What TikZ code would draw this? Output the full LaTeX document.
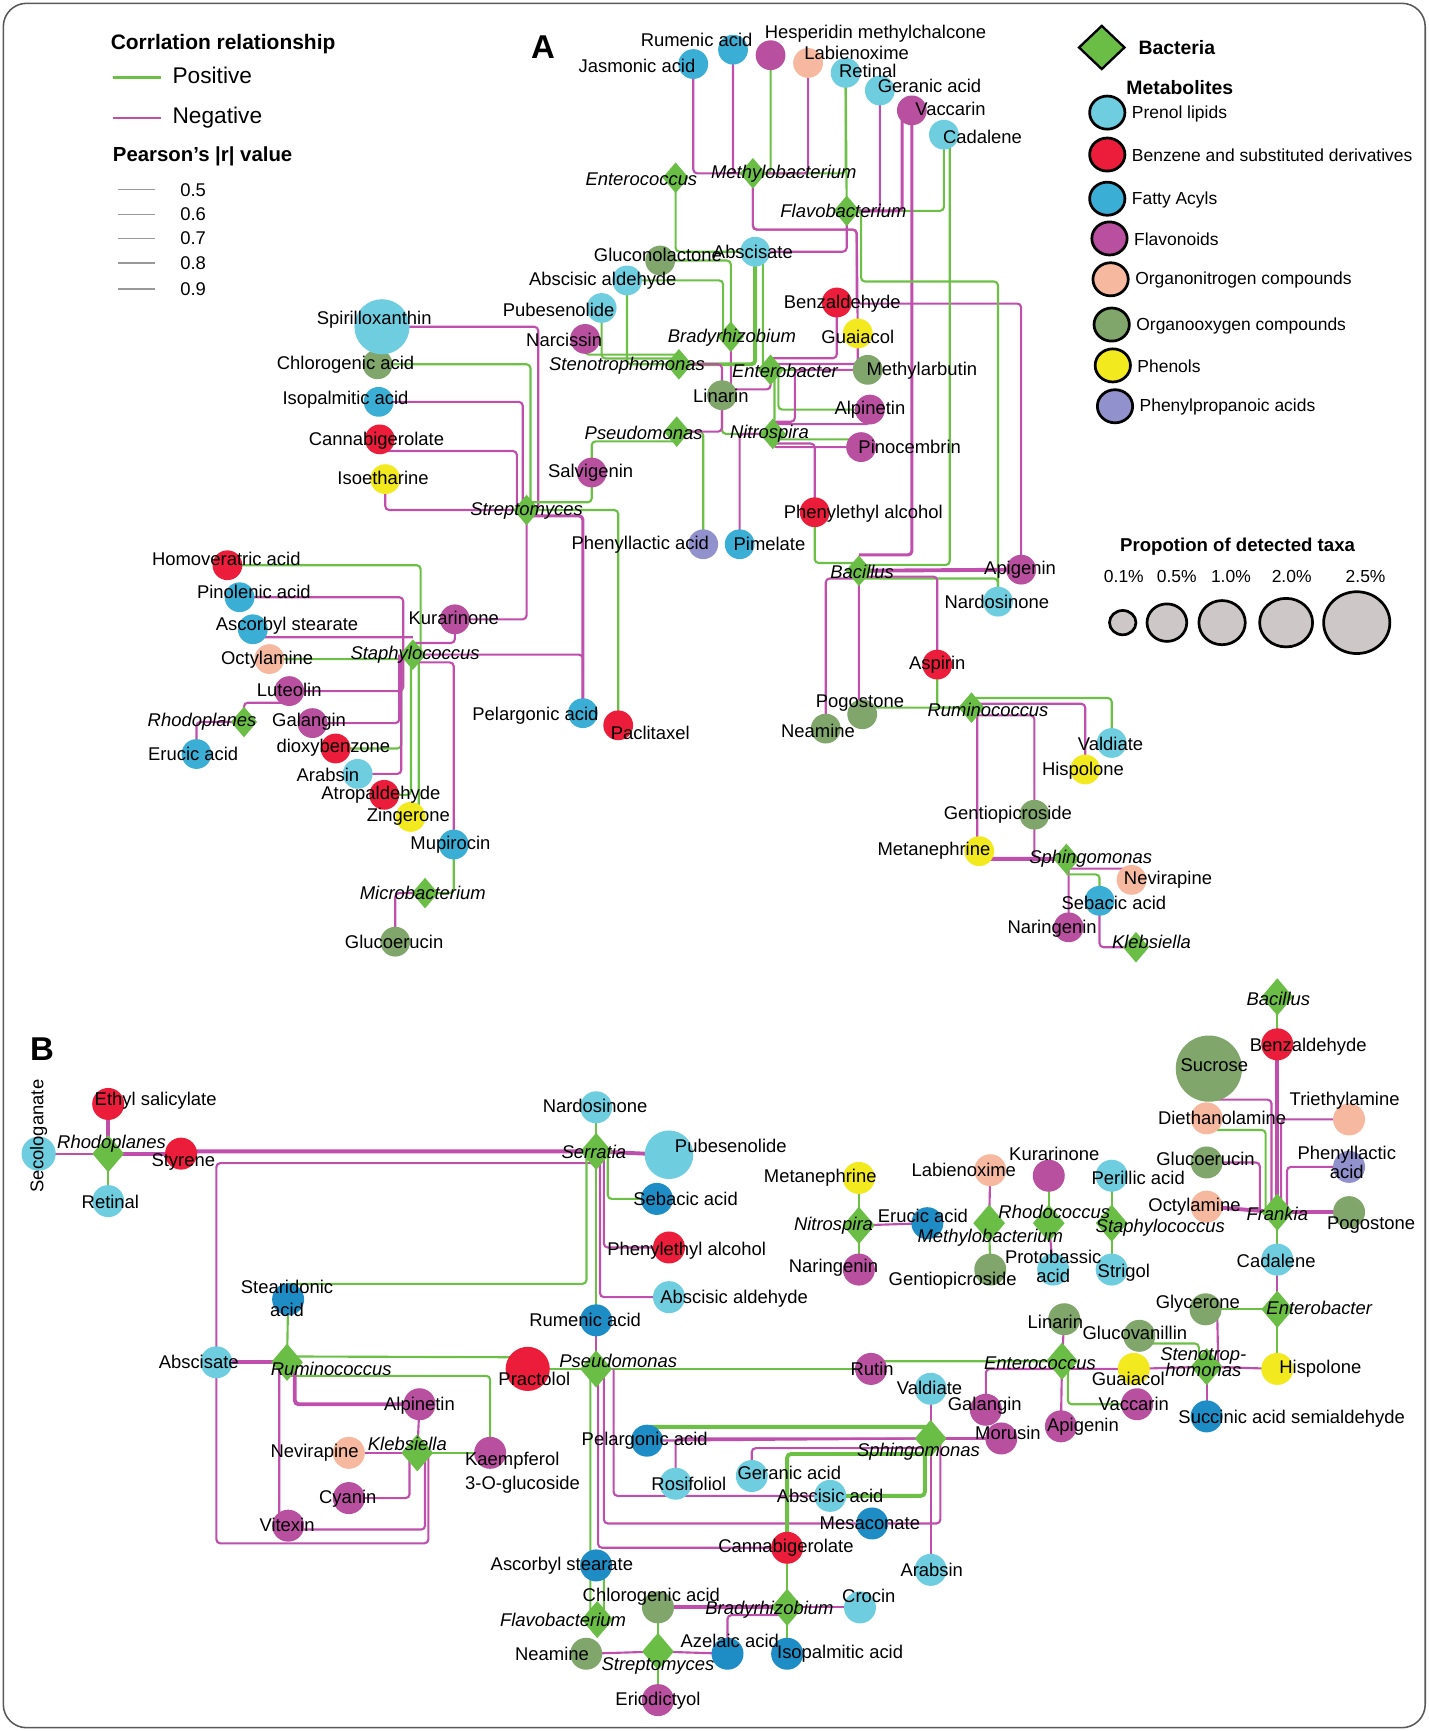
\documentclass[tikz,border=0pt]{standalone}
\usepackage{fontspec}
\setmainfont{Liberation Sans}
\usetikzlibrary{shapes.geometric, calc}

\definecolor{pre}{HTML}{6ECEDF}
\definecolor{ben}{HTML}{EC1D3B}
\definecolor{fat}{HTML}{3BAED5}
\definecolor{fab}{HTML}{1E8DC6}
\definecolor{fla}{HTML}{B84F9F}
\definecolor{nit}{HTML}{F6B99F}
\definecolor{oxy}{HTML}{80A66B}
\definecolor{phe}{HTML}{F2EA1F}
\definecolor{ppa}{HTML}{9191CD}
\definecolor{bac}{HTML}{6ABE45}
\definecolor{poscol}{HTML}{6DC046}
\definecolor{negcol}{HTML}{BF4EAC}
\definecolor{taxa}{HTML}{CEC7C7}

\pgfdeclarelayer{back}
\pgfdeclarelayer{front}
\pgfsetlayers{back,main,front}

\tikzset{
  met/.style={circle, fill=#1, inner sep=0pt, minimum size=0.54cm},
  metb/.style={circle, fill=#1, inner sep=0pt, minimum size=0.58cm},
  dia/.style={diamond, fill=bac, inner sep=0pt, minimum width=0.48cm, minimum height=0.56cm},
  diab/.style={diamond, fill=bac, inner sep=0pt, minimum width=0.58cm, minimum height=0.68cm},
  lbl/.style={inner sep=0pt, align=center, font=\fontsize{9.5}{12}\selectfont},
  bug/.style={lbl, font=\fontsize{9.5}{12}\selectfont\itshape},
  poslink/.style={draw=poscol, line width=1.1pt, rounded corners=2pt},
  neglink/.style={draw=negcol, line width=1.1pt, rounded corners=2pt},
  wide/.style={line width=2pt},
  legdot/.style={ellipse, draw=black, line width=1.4pt, inner sep=0pt, minimum width=0.64cm, minimum height=0.6cm},
  head/.style={anchor=west, inner sep=0pt, font=\fontsize{10.5}{12}\selectfont\bfseries},
}

\begin{document}
\begin{tikzpicture}[x=0.02cm, y=-0.02cm]
\useasboundingbox (0,0) rectangle (1294,1568);
\draw[rounded corners=12pt, draw=black!65, line width=0.8pt] (3,3) rectangle (1291,1565);

\node[font=\fontsize{17}{17}\selectfont\bfseries] (panA) at (492,43) {A};
\node[font=\fontsize{17}{17}\selectfont\bfseries] (panB) at (38,950) {B};

% legend: correlation
\node[head, font=\fontsize{10.8}{12}\selectfont\bfseries] (corr) at (100,40) {Corrlation relationship};
\draw[draw=poscol, line width=1.3pt] (102,70) -- (146,70);
\node[anchor=west, inner sep=0pt, font=\fontsize{11.7}{13}\selectfont] (posi) at (156,68) {Positive};
\draw[draw=negcol, line width=1.3pt] (102,107) -- (146,107);
\node[anchor=west, inner sep=0pt, font=\fontsize{11.7}{13}\selectfont] (nega) at (156,107) {Negative};
\node[head] (pear) at (102,142) {Pearson's |r| value};
\foreach \v/\y/\w in {0.5/172/0.5, 0.6/194/0.6, 0.7/216/0.75, 0.8/238/0.9, 0.9/262/1.3}{
  \draw[black!40, line width=\w pt] (107,\y) -- (140,\y);
  \node[lbl, anchor=west] (r\y) at (163,\y) {\v};
}

% legend: node types
\node[diamond, fill=bac, draw=black, line width=1.2pt, inner sep=0pt, minimum width=0.84cm, minimum height=0.8cm] (bacl) at (998,43) {};
\node[head, font=\fontsize{10}{12}\selectfont\bfseries] (bact) at (1031,43) {Bacteria};
\node[head, font=\fontsize{10}{12}\selectfont\bfseries] (metl) at (1020,79) {Metabolites};
\foreach \col/\x/\y/\txt [count=\i] in {pre/1003/102/Prenol lipids, ben/1003/140/Benzene and substituted derivatives, fat/1003/180/Fatty Acyls, fla/1005/216/Flavonoids, nit/1006/253/Organonitrogen compounds, oxy/1007/294/Organooxygen compounds, phe/1008/331/Phenols, ppa/1010/368/Phenylpropanoic acids}{
  \node[legdot, fill=\col] (k\i) at (\x,\y) {};
  \node[lbl, anchor=west, font=\fontsize{9}{11}\selectfont] (kt\i) at (\x+22,\y+1) {\txt};
}

% legend: taxa proportion
\node[inner sep=0pt, font=\fontsize{9.6}{12}\selectfont\bfseries] (prop) at (1121,495) {Propotion of detected taxa};
\foreach \txt/\x/\lx/\w/\h [count=\i] in {0.1\%/1017/1018/0.48cm/0.44cm, 0.5\%/1057/1066/0.72cm/0.68cm, 1.0\%/1107/1115/0.84cm/0.8cm, 2.0\%/1165/1170/0.96cm/0.88cm, 2.5\%/1229/1237/1.2cm/1.12cm}{
  \node[ellipse, draw=black, fill=taxa, line width=1.4pt, inner sep=0pt, minimum width=\w, minimum height=\h] (pc\i) at (\x,564) {};
  \node[inner sep=0pt, font=\fontsize{9}{11}\selectfont] (pt\i) at (\lx,522) {\txt};
}

% panel A metabolites
\foreach \n/\col/\x/\y/\lx/\ly/\txt in {
  jasm/fat/628/58/577/60/Jasmonic acid, rume/fat/664/45/631/36/Rumenic acid,
  hesp/fla/698/50/793/31/Hesperidin methylchalcone, labi/nit/732/57/776/48/Labienoxime,
  reti/pre/766/66/786/64/Retinal, gera/pre/797/82/842/78/Geranic acid,
  vacc/fla/826/100/861/99/Vaccarin, cada/pre/855/122/890/124/Cadalene,
  absc/pre/684/228/682/228/Abscisate, gluc/oxy/598/236/596/231/Gluconolactone,
  abal/pre/568/254/546/254/Abscisic aldehyde, pube/pre/545/279/506/281/Pubesenolide,
  narc/fla/530/307/511/308/Narcissin, chlo/oxy/342/330/313/330/Chlorogenic acid,
  benz/ben/758/274/763/275/Benzaldehyde, guai/phe/777/302/777/305/Guaiacol,
  marb/oxy/786/335/835/336/Methylarbutin, lina/oxy/654/358/653/359/Linarin,
  isop/fat/343/364/313/362/Isopalmitic acid, alpi/fla/788/371/788/371/Alpinetin,
  pino/fla/780/405/824/405/Pinocembrin, cann/ben/344/398/341/399/Cannabigerolate,
  isoe/phe/349/434/347/433/Isoetharine, salv/fla/536/428/535/428/Salvigenin,
  phet/ben/738/464/782/465/Phenylethyl alcohol, phla/ppa/637/493/580/493/Phenyllactic acid,
  pime/fat/670/493/697/493/Pimelate, apig/fla/925/516/924/516/Apigenin,
  nard/pre/904/545/903/545/Nardosinone, homo/ben/206/512/205/506/Homoveratric acid,
  pinl/fat/217/541/230/536/Pinolenic acid, kura/fla/412/561/411/560/Kurarinone,
  ascs/fat/229/570/260/567/Ascorbyl stearate, octy/nit/244/597/242/598/Octylamine,
  lute/fla/262/626/262/625/Luteolin, gala/fla/283/655/280/654/Galangin,
  eruc/fat/178/683/175/683/Erucic acid, diox/ben/304/678/302/677/dioxybenzone,
  arab/pre/324/701/297/702/Arabsin, atro/ben/348/720/345/720/Atropaldehyde,
  zing/phe/372/740/370/740/Zingerone, mupi/fat/411/765/408/765/Mupirocin,
  gler/oxy/358/853/357/853/Glucoerucin, pela/fat/528/646/485/648/Pelargonic acid,
  pacl/ben/560/657/589/664/Paclitaxel, aspi/ben/849/602/849/602/Aspirin,
  pogo/oxy/781/647/779/637/Pogostone, neam/oxy/748/660/741/662/Neamine,
  vald/pre/1007/673/1006/674/Valdiate, hisp/phe/983/697/981/698/Hispolone,
  gent/oxy/937/738/913/738/Gentiopicroside, meta/phe/887/771/846/771/Metanephrine,
  nevi/nit/1025/797/1058/797/Nevirapine, seba/fat/996/816/1009/818/Sebacic acid,
  nari/fla/968/840/953/841/Naringenin}{
  \node[met=\col] (\n) at (\x,\y) {};
  \begin{pgfonlayer}{front}
    \node[lbl] (\n-l) at (\lx,\ly) {\txt};
  \end{pgfonlayer}
}
\node[met=pre, minimum size=1cm] (spir) at (346,296) {};
\begin{pgfonlayer}{front}
  \node[lbl] (spir-l) at (339,290) {Spirilloxanthin};
\end{pgfonlayer}

% panel A bacteria
\foreach \n/\x/\y/\lx/\ly/\txt in {
  entc/612/161/581/162/Enterococcus, mety/682/157/710/157/Methylobacterium,
  flav/767/191/764/191/Flavobacterium, brad/662/305/663/306/Bradyrhizobium,
  sten/615/330/568/331/Stenotrophomonas, entb/698/335/711/336/Enterobacter,
  pseu/613/391/583/392/Pseudomonas, nitr/700/393/697/393/Nitrospira,
  stre/477/462/477/463/Streptomyces, baci/778/517/781/518/Bacillus,
  stap/374/593/376/593/Staphylococcus, rhod/221/654/183/654/Rhodoplanes,
  micr/385/809/383/809/Microbacterium, rumi/880/641/895/643/Ruminococcus,
  sphi/966/778/988/778/Sphingomonas, kleb/1029/858/1043/853/Klebsiella}{
  \node[dia] (\n) at (\x,\y) {};
  \begin{pgfonlayer}{front}
    \node[bug] (\n-l) at (\lx,\ly) {\txt};
  \end{pgfonlayer}
}

% panel B metabolites
\foreach \n/\col/\x/\y/\lx/\ly/\txt in {
  bethy/ben/98/1000/141/997/Ethyl salicylate, bstyr/ben/164/1045/166/1053/Styrene,
  breti/pre/98/1088/100/1089/Retinal, babsc/pre/196/1234/180/1234/Abscisate,
  bnard/pre/540/1003/539/1002/Nardosinone, bseba/fab/595/1086/621/1086/Sebacic acid,
  bphet/ben/606/1130/622/1133/Phenylethyl alcohol, babal/pre/606/1175/665/1176/Abscisic aldehyde,
  bstea/fab/261/1177/260/1176/Stearidonic\\acid, brume/fab/540/1196/530/1196/Rumenic acid,
  balpi/fla/380/1272/380/1273/Alpinetin, bnevi/nit/316/1316/285/1316/Nevirapine,
  bkaem/fla/444/1316/0/0/{}, bcyan/fla/316/1357/315/1358/Cyanin,
  bvite/fla/261/1382/260/1381/Vitexin, bruti/fla/789/1240/790/1240/Rutin,
  bpela/fab/586/1305/584/1305/Pelargonic acid, brosi/pre/612/1344/624/1344/Rosifoliol,
  bgera/pre/681/1337/715/1334/Geranic acid, babac/pre/752/1355/752/1355/Abscisic acid,
  bmesa/fab/790/1380/788/1380/Mesaconate, bcann/ben/713/1402/712/1402/Cannabigerolate,
  barab/pre/843/1422/844/1422/Arabsin, bvald/pre/843/1258/842/1257/Valdiate,
  bmoru/fla/907/1303/913/1298/Morusin, bascs/fab/540/1418/509/1418/Ascorbyl stearate,
  bchlo/oxy/596/1456/590/1446/Chlorogenic acid, bneam/oxy/531/1498/500/1498/Neamine,
  berio/fla/596/1540/596/1541/Eriodictyol, bazel/fab/659/1498/661/1486/Azelaic acid,
  bcroc/pre/779/1456/787/1446/Crocin, bisop/fab/713/1498/761/1498/Isopalmitic acid,
  bbenz/ben/1157/946/1185/948/Benzaldehyde, bdiet/nit/1093/1013/1107/1013/Diethanolamine,
  btrie/nit/1222/1014/1218/997/Triethylamine, bgler/oxy/1093/1053/1092/1050/Glucoerucin,
  bphla/ppa/1222/1057/1220/1053/Phenyllactic\\[-2.5pt]acid, bocty/nit/1093/1093/1082/1093/Octylamine,
  bpogo/oxy/1222/1098/1242/1110/Pogostone, bcada/pre/1157/1141/1156/1142/Cadalene,
  bglyc/oxy/1092/1186/1085/1181/Glycerone, bhisp/phe/1157/1240/1196/1240/Hispolone,
  bsucc/fab/1093/1283/1170/1285/Succinic acid semialdehyde, bglva/oxy/1032/1210/1028/1207/Glucovanillin,
  bguai/phe/1027/1240/1022/1249/Guaiacol, bvacc/fla/1030/1272/1027/1272/Vaccarin,
  blina/oxy/964/1195/956/1197/Linarin, bgala/fla/893/1277/892/1273/Galangin,
  bapig/fla/961/1292/981/1292/Apigenin, bmeta/phe/778/1067/743/1067/Metanephrine,
  bnari/fla/778/1150/755/1148/Naringenin, beruc/fab/840/1108/836/1101/Erucic acid,
  blabi/nit/897/1060/873/1060/Labienoxime, bgent/oxy/897/1150/863/1160/Gentiopicroside,
  bkura/fla/950/1065/955/1045/Kurarinone, bprot/pre/954/1150/954/1147/Protobassic\\[-2.5pt]acid,
  bperi/pre/1007/1065/1031/1067/Perillic acid, bstri/pre/1007/1150/1018/1153/Strigol}{
  \node[metb=\col] (\n) at (\x,\y) {};
  \begin{pgfonlayer}{front}
    \node[lbl] (\n-l) at (\lx,\ly) {\txt};
  \end{pgfonlayer}
}
\node[metb=oxy, minimum size=1.2cm] (bsucr) at (1095,968) {};
\node[metb=pre, minimum size=0.88cm] (bpube) at (606,1046) {};
\node[metb=ben, minimum size=0.8cm] (bprac) at (478,1240) {};
\node[metb=pre, minimum size=0.62cm] (bseco) at (35,1045) {};
\begin{pgfonlayer}{front}
  \node[lbl] (bsucr-l) at (1100,965) {Sucrose};
  \node[lbl] (bpube-l) at (662,1038) {Pubesenolide};
  \node[lbl] (bprac-l) at (484,1249) {Practolol};
  \node[lbl, rotate=90] (bseco-l) at (35,1029) {Secologanate};
  \node[lbl, anchor=west, align=left] (bkaem-t) at (421,1334) {Kaempferol\\3-O-glucoside};
\end{pgfonlayer}

% panel B bacteria
\foreach \n/\x/\y/\lx/\ly/\txt in {
  brhod/98/1045/101/1036/Rhodoplanes, bserr/540/1043/538/1043/Serratia,
  brumi/260/1234/300/1240/Ruminococcus, bpseu/540/1240/560/1233/Pseudomonas,
  bkleb/378/1316/369/1308/Klebsiella, bsphi/843/1303/832/1315/Sphingomonas,
  bflav/541/1467/510/1467/Flavobacterium, bstre/596/1496/596/1509/Streptomyces,
  bbrad/713/1456/697/1458/Bradyrhizobium, bbaci/1157/903/1158/905/Bacillus,
  bfran/1157/1098/1157/1100/Frankia, bentb/1157/1186/1195/1185/Enterobacter,
  bsten/1093/1238/1090/1234/Stenotrop-\\[-4pt]homonas, bentc/962/1233/942/1235/Enterococcus,
  bnitr/778/1110/755/1110/Nitrospira, bmety/896/1108/897/1121/Methylobacterium,
  brhoc/950/1108/955/1098/Rhodococcus, bstap/1007/1108/1051/1112/Staphylococcus}{
  \node[diab] (\n) at (\x,\y) {};
  \begin{pgfonlayer}{front}
    \node[bug] (\n-l) at (\lx,\ly) {\txt};
  \end{pgfonlayer}
}

\begin{pgfonlayer}{back}
% panel A links
\foreach \p/\q in {hesp/mety, reti/mety, cada/flav, entc/absc, abal/sten, lina/nitr, mupi/micr, aspi/rumi, pogo/rumi}
  \draw[poslink] (\p.center) |- (\q.center);
\foreach \p/\q in {jasm/mety, rume/mety, labi/mety, gera/flav, flav/absc, isoe/stre, brad/lina, stre/kura, seba/kleb, nitr/pino, gent/sphi}
  \draw[neglink] (\p.center) |- (\q.center);
\foreach \p/\q in {gluc/brad, stre/pacl, pseu/phla, octy/stap}
  \draw[poslink] (\p.center) -| (\q.center);
\foreach \p/\q in {stap/pela, micr/gler, rhod/eruc, nitr/pime, sphi/nari}
  \draw[neglink] (\p.center) -| (\q.center);
\draw[poslink] (reti.center) -- (flav.center);
\draw[poslink] (marb.center) -- (entb.center);
\draw[neglink] (mety.center) |- (776,208) -- (guai.center);
\draw[neglink] (mety.center) |- (776,208) |- (925,275) -- (apig.center);
\draw[neglink, line width=1.6pt] ([xshift=-5pt]vacc.center) |- (flav.center);
\draw[neglink, line width=1.6pt] (vacc.center) |- (baci.north);
\draw[poslink] ([xshift=3pt]cada.center) |- ([yshift=3pt]baci.center);
\draw[poslink] (flav.center) -| (780,255) -| (nard.center);
\draw[poslink, wide] (absc.center) |- (sten.center);
\draw[poslink] ([xshift=4pt]absc.center) |- (entb.center);
\draw[poslink] (abal.center) -| ([xshift=-4pt]brad.center);
\draw[poslink] (pube.center) |- ([yshift=3pt]sten.center);
\draw[poslink] (narc.center) |- ([yshift=5pt]sten.center);
\draw[neglink] (spir.center) -| ([xshift=6pt]stre.center);
\draw[poslink] (chlo.center) -| ([xshift=2pt]stre.center);
\draw[neglink] (isop.center) -| ([xshift=-2pt]stre.center);
\draw[neglink] ([yshift=-6pt]cann.center) -| ([xshift=-5pt]stre.center);
\draw[poslink] (salv.center) |- ([yshift=4pt]stre.center);
\draw[poslink] ([yshift=-5pt]pseu.center) -| (salv.center);
\draw[neglink] (sten.center) -| (lina.center) |- (pseu.center);
\draw[neglink] ([yshift=3pt]lina.center) -| (entb.center);
\draw[neglink] (benz.center) |- ([yshift=6pt]entb.center);
\draw[neglink] (guai.center) |- ([yshift=3pt]entb.center);
\draw[poslink] ([xshift=4pt]entb.center) |- (alpi.center);
\draw[poslink] ([xshift=2pt]entb.center) |- ([yshift=4pt]pino.center);
\draw[neglink] (marb.center) -| (720,382) -| (nitr.center);
\draw[neglink] (alpi.center) |- ([yshift=5pt]nitr.center);
\draw[neglink] ([yshift=-5pt]nitr.center) -| (phet.center);
\draw[poslink] (phet.center) |- ([yshift=4pt]baci.center);
\draw[neglink, wide] (baci.center) -- (apig.center);
\draw[poslink] ([yshift=-4pt]baci.center) -| (nard.center);
\draw[neglink] (baci.center) |- (pogo.center);
\draw[neglink] ([yshift=-4pt]baci.center) -| (neam.center);
\draw[neglink] ([yshift=-3pt]baci.center) -| (aspi.center);
\draw[poslink] ([yshift=5pt]rumi.center) -| (vald.center);
\draw[neglink] ([yshift=2pt]rumi.center) -| (hisp.center);
\draw[neglink] ([xshift=3pt]rumi.center) |- (meta.center);
\draw[neglink] ([yshift=-4pt]rumi.center) -| (gent.center);
\draw[neglink, wide] (meta.center) |- (sphi.center);
\draw[neglink] ([yshift=-5pt]sphi.center) -| (nevi.center);
\draw[poslink] ([yshift=-8pt]sphi.center) -| (seba.center);
\draw[poslink] (homo.center) -| ([xshift=4pt]stap.center);
\draw[neglink] (pinl.center) -| ([xshift=-5pt]stap.center);
\draw[neglink] (ascs.center) |- ([yshift=9pt]stap.center);
\draw[neglink] (kura.center) |- ([yshift=6pt]stap.center);
\draw[neglink] (lute.center) -| ([xshift=-5pt]stap.center);
\draw[neglink] (gala.center) -| ([xshift=-7pt]stap.center);
\draw[poslink] (diox.center) -| ([xshift=-6pt]stap.center);
\draw[neglink] (arab.center) -| ([xshift=-6pt]stap.center);
\draw[poslink] (atro.center) -| ([xshift=-1pt]stap.center);
\draw[poslink] (zing.center) -| ([xshift=3pt]stap.center);
\draw[neglink] (mupi.center) |- ([yshift=-4pt]stap.center);
\draw[neglink] ([yshift=-6pt]lute.center) -| (rhod.center);
\draw[neglink, line width=1.6pt] ([yshift=-3pt]stre.center) -| (pela.center);

% panel B links
\foreach \p/\q in {bseco/brhod, brume/bpseu, bnevi/bkleb, bneam/bstre, bstre/bazel, bbrad/bcroc, bnitr/beruc, blabi/bmety, brhoc/bprot, bcada/bentb, bhisp/bsten, bsten/bsucc, bguai/bsten, blina/bentc, bentc/bapig, bsphi/bmoru, bvald/bsphi, bsphi/barab, bpela/bsphi, balpi/bkleb}
  \draw[neglink] (\p.center) -- (\q.center);
\foreach \p/\q in {bethy/brhod, brhod/bstyr, babsc/brumi, bchlo/bbrad, bocty/bfran, bfran/bpogo, bbenz/bfran, bserr/bpube}
  \draw[neglink, wide] (\p.center) -- (\q.center);
\foreach \p/\q in {brhod/breti, bnard/bserr, bserr/brume, bstea/brumi, bprac/bpseu, bpseu/bruti, bkaem/bkleb, bchlo/bstre, bstre/berio, bcann/bbrad, bbrad/bisop, bmeta/bnitr, bnitr/bnari, bmety/bgent, bkura/brhoc, bperi/bstap, bstap/bstri, bbaci/bbenz, bfran/bcada, bglyc/bentb, bentb/bhisp}
  \draw[poslink] (\p.center) -- (\q.center);
\draw[neglink, wide] (bstyr.center) |- (bserr.center);
\draw[neglink] (babsc.center) |- ([yshift=-6pt]bserr.center);
\draw[neglink] (babsc.center) |- (388,1398) |- (bkleb.center);
\draw[poslink] ([xshift=6pt]bserr.center) |- (bseba.center);
\draw[neglink] ([xshift=4pt]bserr.center) |- (bphet.center);
\draw[neglink] ([xshift=2pt]bserr.center) |- (babal.center);
\draw[poslink] ([yshift=8pt]bstea.center) -| ([xshift=-5pt]bserr.center);
\draw[poslink] ([yshift=3pt]brumi.center) -- ([yshift=6pt]bprac.center);
\draw[poslink] ([yshift=-7pt]brumi.center) -| (bkaem.center);
\draw[neglink, wide] ([xshift=4pt]brumi.center) |- (balpi.center);
\draw[neglink] (bcyan.center) -| ([xshift=-4pt]bkleb.center);
\draw[neglink] ([xshift=-4pt]brumi.center) |- (bvite.center);
\draw[neglink] ([yshift=-2pt]bvite.center) -| ([xshift=4pt]bkleb.center);
\draw[poslink] (bruti.center) |- (bentc.center);
\draw[neglink] ([xshift=9pt]bpseu.center) |- (babac.center);
\draw[neglink] ([xshift=4pt]bpseu.center) |- (bmesa.center);
\draw[neglink] (bmesa.center) -| ([xshift=5pt]bsphi.center);
\draw[neglink] ([xshift=1pt]bpseu.center) |- (bcann.center);
\draw[poslink] ([xshift=-3pt]bpseu.center) |- (bflav.center);
\draw[poslink] ([xshift=4pt]bascs.center) |- (bflav.center);
\draw[poslink, wide] (bpela.center) |- ([yshift=6pt]bsphi.center);
\draw[neglink] (brosi.center) |- (bsphi.center);
\draw[neglink] (bgera.center) |- ([yshift=-5pt]bsphi.center);
\draw[poslink, wide] (bcann.center) |- ([yshift=-8pt]bsphi.center);
\draw[poslink, wide] (babac.center) -| ([xshift=-3pt]bsphi.center);
\draw[neglink] (bazel.center) |- ([yshift=-4pt]bbrad.center);
\draw[neglink] ([yshift=-16pt]bsucr.center) -| ([xshift=-3pt]bfran.center);
\draw[poslink] ([yshift=-6pt]bdiet.center) -| ([xshift=-6pt]bfran.center);
\draw[neglink] (btrie.center) -| ([xshift=2pt]bfran.center);
\draw[neglink] (bgler.center) -| ([xshift=-9pt]bfran.center);
\draw[neglink] (bphla.center) -| ([xshift=5pt]bfran.center);
\draw[neglink] ([xshift=6pt]bglyc.center) -- ([xshift=6pt]bsten.center);
\draw[poslink] ([yshift=-4pt]bglva.center) -| ([xshift=-4pt]bsten.center);
\draw[neglink] (bentc.center) |- (bguai.center);
\draw[poslink] ([xshift=3pt]bentc.center) |- (bvacc.center);
\draw[neglink] ([yshift=-4pt]bentc.center) -| (bgala.center);
\end{pgfonlayer}
\end{tikzpicture}
\end{document}
